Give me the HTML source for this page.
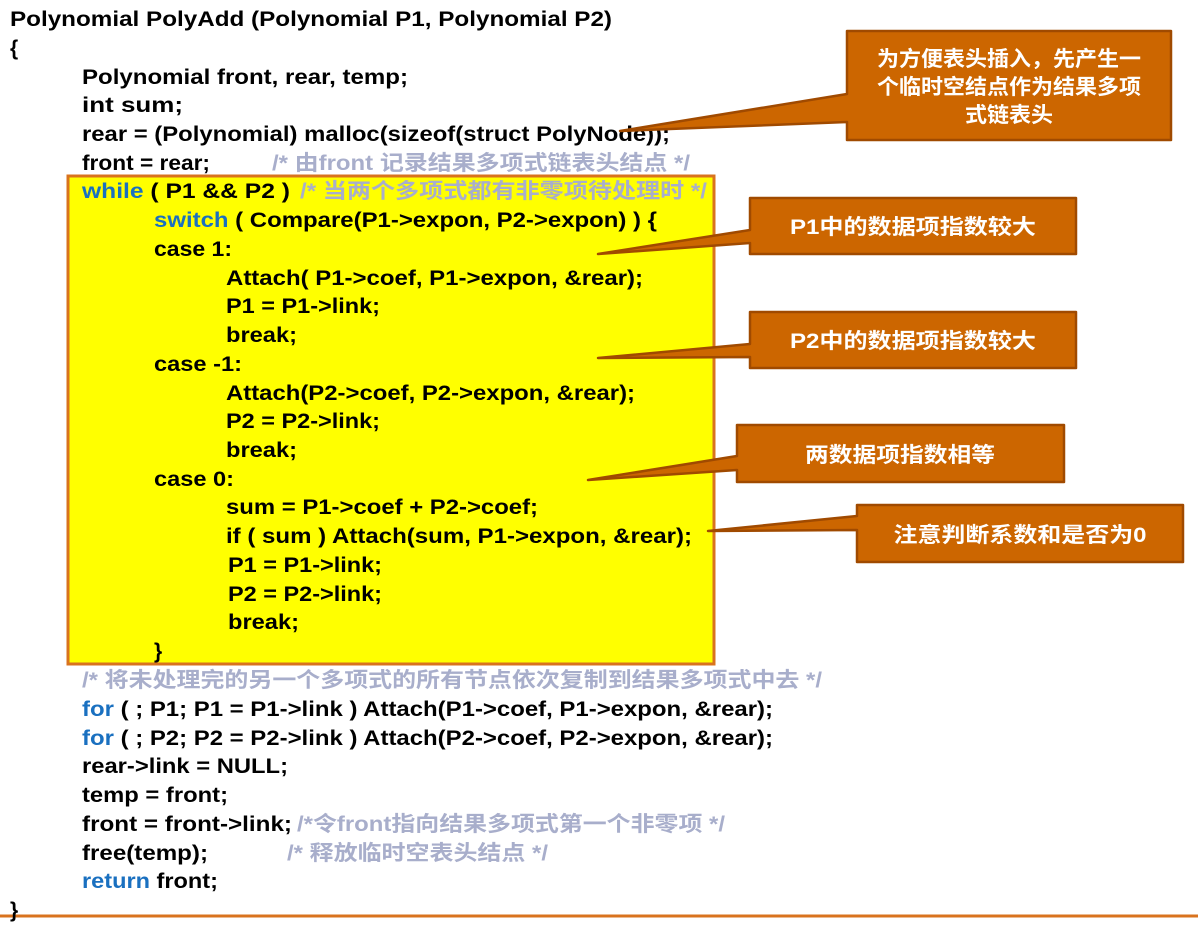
<!DOCTYPE html>
<html><head><meta charset="utf-8"><style>
html,body{margin:0;padding:0;background:#fff;width:1198px;height:926px;overflow:hidden}
svg text{font-family:"Liberation Sans",sans-serif;font-weight:bold;font-size:21px}
svg text.cj, svg tspan.cj{font-family:"Liberation Sans","Noto Sans CJK SC",sans-serif}
.c{fill:#000}.k{fill:#1a70c0}.m{fill:#a8aecb}.w{fill:#fff;font-size:21px}
</style></head><body>
<svg width="1198" height="926" viewBox="0 0 1198 926" xmlns="http://www.w3.org/2000/svg">
<rect x="68" y="176" width="646" height="488" fill="#ffff00" stroke="#d9731e" stroke-width="3"/>
<line x1="0" y1="916" x2="1198" y2="916" stroke="#d9731e" stroke-width="3"/>

<text x="10" y="26" class="c" textLength="602" lengthAdjust="spacingAndGlyphs">Polynomial  PolyAdd (Polynomial P1, Polynomial P2)</text>
<text x="10" y="55" class="c">{</text>
<text x="82" y="84" class="c" textLength="326" lengthAdjust="spacingAndGlyphs">Polynomial front, rear, temp;</text>
<text x="82" y="112" class="c" textLength="101" lengthAdjust="spacingAndGlyphs">int sum;</text>
<text x="82" y="141" class="c" textLength="588" lengthAdjust="spacingAndGlyphs">rear = (Polynomial) malloc(sizeof(struct PolyNode));</text>
<text x="82" y="170" class="c" textLength="128" lengthAdjust="spacingAndGlyphs">front = rear;</text>
<text x="272" y="170" class="m cj" textLength="418" lengthAdjust="spacingAndGlyphs">/* 由front 记录结果多项式链表头结点 */</text>
<text x="82" y="198" textLength="208" lengthAdjust="spacingAndGlyphs"><tspan class="k">while</tspan><tspan class="c"> ( P1 &amp;&amp; P2 )</tspan></text>
<text x="300" y="198" class="m cj" textLength="407" lengthAdjust="spacingAndGlyphs">/* 当两个多项式都有非零项待处理时 */</text>
<text x="154" y="227" textLength="503" lengthAdjust="spacingAndGlyphs"><tspan class="k">switch</tspan><tspan class="c"> ( Compare(P1-&gt;expon, P2-&gt;expon) ) {</tspan></text>
<text x="154" y="256" class="c" textLength="78" lengthAdjust="spacingAndGlyphs">case 1:</text>
<text x="226" y="285" class="c" textLength="417" lengthAdjust="spacingAndGlyphs">Attach( P1-&gt;coef, P1-&gt;expon, &amp;rear);</text>
<text x="226" y="313" class="c" textLength="154" lengthAdjust="spacingAndGlyphs">P1 = P1-&gt;link;</text>
<text x="226" y="342" class="c" textLength="71" lengthAdjust="spacingAndGlyphs">break;</text>
<text x="154" y="371" class="c" textLength="88" lengthAdjust="spacingAndGlyphs">case -1:</text>
<text x="226" y="400" class="c" textLength="409" lengthAdjust="spacingAndGlyphs">Attach(P2-&gt;coef, P2-&gt;expon, &amp;rear);</text>
<text x="226" y="428" class="c" textLength="154" lengthAdjust="spacingAndGlyphs">P2 = P2-&gt;link;</text>
<text x="226" y="457" class="c" textLength="71" lengthAdjust="spacingAndGlyphs">break;</text>
<text x="154" y="486" class="c" textLength="80" lengthAdjust="spacingAndGlyphs">case 0:</text>
<text x="226" y="514" class="c" textLength="312" lengthAdjust="spacingAndGlyphs">sum = P1-&gt;coef + P2-&gt;coef;</text>
<text x="226" y="543" class="c" textLength="466" lengthAdjust="spacingAndGlyphs">if ( sum ) Attach(sum, P1-&gt;expon, &amp;rear);</text>
<text x="228" y="572" class="c" textLength="154" lengthAdjust="spacingAndGlyphs">P1 = P1-&gt;link;</text>
<text x="228" y="601" class="c" textLength="154" lengthAdjust="spacingAndGlyphs">P2 = P2-&gt;link;</text>
<text x="228" y="629" class="c" textLength="71" lengthAdjust="spacingAndGlyphs">break;</text>
<text x="154" y="658" class="c">}</text>
<text x="82" y="687" class="m cj" textLength="740" lengthAdjust="spacingAndGlyphs">/* 将未处理完的另一个多项式的所有节点依次复制到结果多项式中去 */</text>
<text x="82" y="716" textLength="691" lengthAdjust="spacingAndGlyphs"><tspan class="k">for</tspan><tspan class="c"> ( ; P1; P1 = P1-&gt;link ) Attach(P1-&gt;coef, P1-&gt;expon, &amp;rear);</tspan></text>
<text x="82" y="745" textLength="691" lengthAdjust="spacingAndGlyphs"><tspan class="k">for</tspan><tspan class="c"> ( ; P2; P2 = P2-&gt;link ) Attach(P2-&gt;coef, P2-&gt;expon, &amp;rear);</tspan></text>
<text x="82" y="773" class="c" textLength="206" lengthAdjust="spacingAndGlyphs">rear-&gt;link = NULL;</text>
<text x="82" y="802" class="c" textLength="146" lengthAdjust="spacingAndGlyphs">temp = front;</text>
<text x="82" y="831" class="c" textLength="210" lengthAdjust="spacingAndGlyphs">front = front-&gt;link;</text>
<text x="297" y="831" class="m cj" textLength="428" lengthAdjust="spacingAndGlyphs">/*令front指向结果多项式第一个非零项 */</text>
<text x="82" y="860" class="c" textLength="126" lengthAdjust="spacingAndGlyphs">free(temp);</text>
<text x="287" y="860" class="m cj" textLength="261" lengthAdjust="spacingAndGlyphs">/* 释放临时空表头结点 */</text>
<text x="82" y="888" textLength="136" lengthAdjust="spacingAndGlyphs"><tspan class="k">return</tspan><tspan class="c"> front;</tspan></text>
<text x="10" y="917" class="c">}</text>

<g fill="#cc6600" stroke="#a04a00" stroke-width="2.5" stroke-linejoin="round">
<path d="M847,31 H1171 V140 H847 V122 L620,131 L847,94 Z"/>
<path d="M750,198 H1076 V254 H750 V243 L598,254 L750,230 Z"/>
<path d="M750,312 H1076 V368 H750 V357 L598,358 L750,344 Z"/>
<path d="M737,425 H1064 V482 H737 V470 L588,480 L737,456 Z"/>
<path d="M857,505 H1183 V562 H857 V530 L708,531 L857,516 Z"/>
</g>
<text x="1009" y="66" class="w cj" text-anchor="middle" textLength="264" lengthAdjust="spacingAndGlyphs">为方便表头插入，先产生一</text>
<text x="1009" y="94" class="w cj" text-anchor="middle" textLength="264" lengthAdjust="spacingAndGlyphs">个临时空结点作为结果多项</text>
<text x="1009" y="122" class="w cj" text-anchor="middle" textLength="88" lengthAdjust="spacingAndGlyphs">式链表头</text>
<text x="913" y="234" class="w cj" text-anchor="middle" textLength="246" lengthAdjust="spacingAndGlyphs">P1中的数据项指数较大</text>
<text x="913" y="348" class="w cj" text-anchor="middle" textLength="246" lengthAdjust="spacingAndGlyphs">P2中的数据项指数较大</text>
<text x="900" y="462" class="w cj" text-anchor="middle" textLength="190" lengthAdjust="spacingAndGlyphs">两数据项指数相等</text>
<text x="1020" y="542" class="w cj" text-anchor="middle" textLength="253" lengthAdjust="spacingAndGlyphs">注意判断系数和是否为0</text>
</svg>
</body></html>
